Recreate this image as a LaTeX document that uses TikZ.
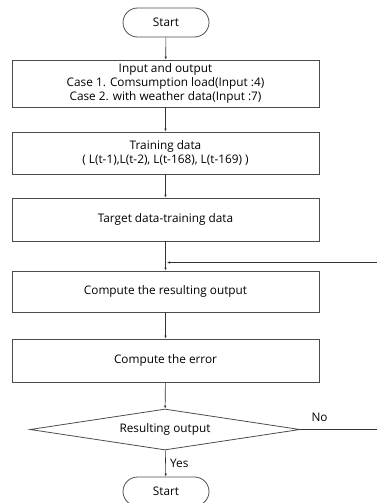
\documentclass[tikz,border=0pt]{standalone}
\usepackage{fontspec}
\setmainfont{Open Sans}
\usetikzlibrary{shapes.geometric,arrows.meta}
\begin{document}
\begin{tikzpicture}[x=1pt,y=-1pt,
  font=\fontsize{11.8}{14}\selectfont,
  procbox/.style={draw=black!70,line width=0.8pt,minimum width=307pt,align=center,inner sep=0pt},
  term/.style={draw=black!70,line width=0.8pt,rounded corners=14.5pt,minimum width=86pt,minimum height=29pt,inner sep=0pt},
  decis/.style={draw=black!70,line width=0.8pt,diamond,aspect=6.6,inner sep=0pt,minimum width=270pt,minimum height=41pt},
  conn/.style={draw=black!80,line width=0.6pt,-{Latex[length=3pt,width=2.5pt]}},
  plain/.style={draw=black!80,line width=0.6pt}]
\useasboundingbox (0,0) rectangle (377,503);
\clip (0,0) rectangle (377,503);
\node[term] (start) at (166,22.5) {Start};
\node[procbox,minimum height=47pt] (io) at (165.5,83.5) {Input and output\\Case 1. Comsumption load(Input :4)\\Case 2. with weather data(Input :7)};
\node[procbox,minimum height=42pt] (train) at (165.5,153) {Training data\\( L(t-1),L(t-2), L(t-168), L(t-169) )};
\node[procbox,minimum height=43pt] (target) at (165.5,219.5) {Target data-training data};
\node[procbox,minimum height=41pt] (cout) at (165.5,291.5) {Compute the resulting output};
\node[procbox,minimum height=43pt] (cerr) at (165.5,360.5) {Compute the error};
\node[decis] (dec) at (165,429.5) {Resulting output};
\node[term] (stop) at (166,491.5) {Start};
\coordinate (loopin) at (377,262.5);
\coordinate (loopend) at (167,262.5);
\coordinate (noend) at (377,429.5);
\draw[conn] (start) -- (io);
\draw[conn] (io) -- (train);
\draw[conn] (train) -- (target);
\draw[conn] (target) -- (cout);
\draw[conn] (loopin) -- (loopend);
\draw[conn] (cout) -- (cerr);
\draw[conn] (cerr) -- (dec);
\draw[conn] (dec) -- node[right,xshift=1pt] {Yes} (stop);
\draw[plain] (dec.east) -- node[above,pos=0.25,yshift=4pt] {No} (noend);
\end{tikzpicture}
\end{document}
